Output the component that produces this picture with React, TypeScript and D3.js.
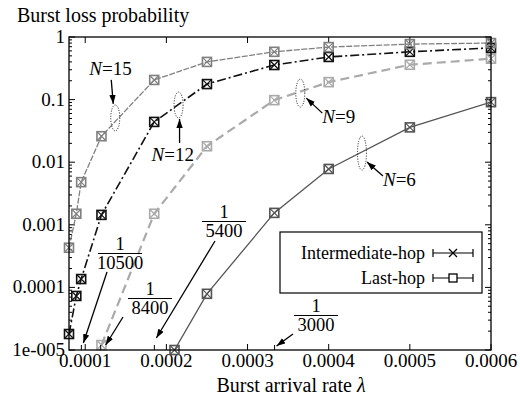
import * as d3 from 'd3';
import React, { useRef, useEffect } from 'react';

// burst arrival rate (lambda) values used by the simulations
const ratesHigh = [0.00008, 0.000089, 0.000095, 0.00012, 0.000185, 0.00025, 0.000333, 0.0004, 0.0005, 0.0006];
const ratesN9 = [0.00012, 0.000185, 0.00025, 0.000333, 0.0004, 0.0005, 0.0006];
const ratesN6 = [0.00021, 0.00025, 0.000333, 0.0004, 0.0005, 0.0006];

// burst loss probability per number of wavelengths N
const lossN15 = [4.3e-4, 1.5e-3, 4.8e-3, 0.026, 0.206, 0.40, 0.58, 0.69, 0.77, 0.80];
const lossN12 = [1.8e-5, 7.3e-5, 1.36e-4, 1.44e-3, 0.044, 0.177, 0.357, 0.48, 0.58, 0.67];
const lossN9 = [1.2e-5, 1.5e-3, 0.018, 0.098, 0.19, 0.36, 0.45];
const lossN6 = [1e-5, 7.9e-5, 1.55e-3, 7.8e-3, 0.036, 0.091];

const xTicks = [0.0001, 0.0002, 0.0003, 0.0004, 0.0005, 0.0006];
const xTickLabels = ['0.0001', '0.0002', '0.0003', '0.0004', '0.0005', '0.0006'];
const yTicks = [1e-5, 1e-4, 1e-3, 1e-2, 1e-1, 1];
const yTickLabels = ['1e-005', '0.0001', '0.001', '0.01', '0.1', '1'];

// threshold rates marked with fractions
const fractions = [10500, 8400, 5400, 3000];

const legendLabels = ['Intermediate-hop', 'Last-hop'];

function App() {
    const ref = useRef(null);

    useEffect(() => {
        draw();
    }, []);

    const draw = () => {
        const width = 520, height = 397;
        const margin = { top: 37, right: 29, bottom: 47, left: 69 };
        const font = "'Liberation Serif', 'Times New Roman', serif";

        const svg = d3.select(ref.current)
            .attr('width', width)
            .attr('height', height)
            .style('font-family', font);
        svg.selectAll('*').remove();

        svg.append('rect').attr('width', width).attr('height', height).attr('fill', 'white');

        const x = d3.scaleLinear().domain([0.00008, 0.0006]).range([margin.left, width - margin.right]);
        const y = d3.scaleLog().domain([1e-5, 1]).range([height - margin.bottom, margin.top]);
        const x0 = x.range()[0], x1 = x.range()[1];
        const y0 = y.range()[0], y1 = y.range()[1];

        const defs = svg.append('defs');
        defs.append('clipPath').attr('id', 'plotclip')
            .append('rect')
            .attr('x', x0).attr('y', y1)
            .attr('width', x1 - x0).attr('height', y0 - y1);
        defs.append('marker')
            .attr('id', 'arrowhead')
            .attr('viewBox', '0 0 10 7')
            .attr('refX', 10).attr('refY', 3.5)
            .attr('markerWidth', 9).attr('markerHeight', 6.5)
            .attr('markerUnits', 'userSpaceOnUse')
            .attr('orient', 'auto')
            .append('path').attr('d', 'M0,0 L10,3.5 L0,7 z').attr('fill', 'black');

        // ticks
        const ticks = svg.append('g').attr('stroke', 'black').attr('stroke-width', 1);
        xTicks.forEach(t => {
            ticks.append('line').attr('x1', x(t)).attr('x2', x(t)).attr('y1', y0).attr('y2', y0 - 6);
            ticks.append('line').attr('x1', x(t)).attr('x2', x(t)).attr('y1', y1).attr('y2', y1 + 6);
        });
        yTicks.forEach((t, i) => {
            ticks.append('line').attr('x1', x0).attr('x2', x0 + 6).attr('y1', y(t)).attr('y2', y(t));
            ticks.append('line').attr('x1', x1).attr('x2', x1 - 6).attr('y1', y(t)).attr('y2', y(t));
            if (i < yTicks.length - 1) {
                for (let m = 2; m <= 9; m++) {
                    const v = t * m;
                    ticks.append('line').attr('x1', x0).attr('x2', x0 + 3).attr('y1', y(v)).attr('y2', y(v));
                    ticks.append('line').attr('x1', x1).attr('x2', x1 - 3).attr('y1', y(v)).attr('y2', y(v));
                }
            }
        });

        // tick labels
        xTicks.forEach((t, i) => {
            svg.append('text').attr('x', x(t)).attr('y', y0 + 17)
                .attr('text-anchor', 'middle').style('font-size', '19px')
                .text(xTickLabels[i]);
        });
        yTicks.forEach((t, i) => {
            svg.append('text').attr('x', x0 - 4).attr('y', y(t) + 6)
                .attr('text-anchor', 'end').style('font-size', '19px')
                .text(yTickLabels[i]);
        });

        // axis titles
        svg.append('text').attr('x', 17).attr('y', 22).style('font-size', '20px')
            .text('Burst loss probability');
        const xt = svg.append('text').attr('x', 291).attr('y', 392)
            .attr('text-anchor', 'middle').style('font-size', '20px');
        xt.append('tspan').text('Burst arrival rate ');
        xt.append('tspan').style('font-style', 'italic').text('λ');

        // series
        const series = [
            { xs: ratesN6, ys: lossN6, color: '#555555', width: 1.3, dash: null },
            { xs: ratesN9, ys: lossN9, color: '#aaaaaa', width: 2.2, dash: '9,5' },
            { xs: ratesHigh, ys: lossN12, color: '#111111', width: 1.6, dash: '9,3,2,3' },
            { xs: ratesHigh, ys: lossN15, color: '#808080', width: 1.3, dash: '6,1.5' },
        ];

        const line = d3.line()
            .x(d => x(d[0]))
            .y(d => y(d[1]));

        series.forEach(s => {
            const pts = s.xs.map((v, i) => [v, s.ys[i]]);
            svg.append('path')
                .attr('clip-path', 'url(#plotclip)')
                .attr('d', line(pts))
                .attr('fill', 'none')
                .attr('stroke', s.color)
                .attr('stroke-width', s.width)
                .attr('stroke-dasharray', s.dash);
        });

        // markers: square (last-hop) and cross (intermediate-hop), overlapping
        series.forEach(s => {
            const g = svg.append('g').attr('stroke', s.color).attr('fill', 'none').attr('stroke-width', 1.6);
            s.xs.forEach((v, i) => {
                const cx = x(v), cy = y(s.ys[i]), r = 4.5;
                g.append('rect').attr('x', cx - r).attr('y', cy - r).attr('width', 2 * r).attr('height', 2 * r);
                g.append('path').attr('stroke-width', 1.2)
                    .attr('d', `M${cx - r},${cy - r}L${cx + r},${cy + r}M${cx - r},${cy + r}L${cx + r},${cy - r}`);
            });
        });

        // frame
        svg.append('rect').attr('x', x0).attr('y', y1).attr('width', x1 - x0).attr('height', y0 - y1)
            .attr('fill', 'none').attr('stroke', 'black').attr('stroke-width', 1.3);

        // N labels with dotted ellipses
        const nNotes = [
            { n: '15', cx: 0.000137, cy: 0.051, ry: 13, tx: -26, ty: -43, a: [-4, -38, -2, -14] },
            { n: '12', cx: 0.000215, cy: 0.082, ry: 13, tx: -27, ty: 56, a: [1, 38, 1, 14] },
            { n: '9', cx: 0.000365, cy: 0.127, ry: 14, tx: 22, ty: 30, a: [22, 20, 6, 5] },
            { n: '6', cx: 0.000441, cy: 0.014, ry: 17, tx: 21, ty: 33, a: [21, 23, 5, 9] },
        ];
        nNotes.forEach(d => {
            const cx = x(d.cx), cy = y(d.cy);
            svg.append('ellipse').attr('cx', cx).attr('cy', cy).attr('rx', 4.5).attr('ry', d.ry)
                .attr('fill', 'none').attr('stroke', 'black').attr('stroke-width', 0.9)
                .attr('stroke-dasharray', '1,1.5');
            svg.append('line')
                .attr('x1', cx + d.a[0]).attr('y1', cy + d.a[1])
                .attr('x2', cx + d.a[2]).attr('y2', cy + d.a[3])
                .attr('stroke', 'black').attr('stroke-width', 1.3)
                .attr('marker-end', 'url(#arrowhead)');
            const t = svg.append('text').attr('x', cx + d.tx).attr('y', cy + d.ty).style('font-size', '19px');
            t.append('tspan').style('font-style', 'italic').text('N');
            t.append('tspan').text('=' + d.n);
        });

        // fraction annotations pointing to threshold rates
        const fracNotes = [
            { cx: 120, top: 250, a: [107, 272, 2, 343] },
            { cx: 150, top: 295, a: [123, 317, 5, 345] },
            { cx: 224, top: 218, a: [215, 241, 2, 338] },
            { cx: 316, top: 312, a: [293, 334, 2, 346] },
        ];
        fractions.forEach((f, i) => {
            const d = fracNotes[i];
            const tx = x(1 / f);
            svg.append('line').attr('x1', tx).attr('x2', tx).attr('y1', y0).attr('y2', y0 - 5)
                .attr('stroke', 'black').attr('stroke-width', 1);
            svg.append('text').attr('x', d.cx).attr('y', d.top).attr('text-anchor', 'middle')
                .style('font-size', '18.5px').text('1');
            svg.append('line').attr('x1', d.cx - 22).attr('x2', d.cx + 22)
                .attr('y1', d.top + 3.5).attr('y2', d.top + 3.5)
                .attr('stroke', 'black').attr('stroke-width', 1);
            svg.append('text').attr('x', d.cx).attr('y', d.top + 18.5).attr('text-anchor', 'middle')
                .style('font-size', '18.5px').text(String(f));
            svg.append('line')
                .attr('x1', d.a[0]).attr('y1', d.a[1])
                .attr('x2', tx + d.a[2]).attr('y2', d.a[3])
                .attr('stroke', 'black').attr('stroke-width', 1.3)
                .attr('marker-end', 'url(#arrowhead)');
        });

        // legend
        const lg = svg.append('g');
        lg.append('rect').attr('x', 280).attr('y', 232).attr('width', 202).attr('height', 61)
            .attr('fill', 'white').attr('stroke', 'black').attr('stroke-width', 1.2);
        legendLabels.forEach((label, i) => {
            const ly = 253 + i * 25;
            lg.append('text').attr('x', 425).attr('y', ly + 6).attr('text-anchor', 'end')
                .style('font-size', '18px').text(label);
            lg.append('line').attr('x1', 433).attr('x2', 473).attr('y1', ly).attr('y2', ly)
                .attr('stroke', 'black').attr('stroke-width', 1.2);
            [433, 473].forEach(cx => {
                lg.append('line').attr('x1', cx).attr('x2', cx).attr('y1', ly - 4).attr('y2', ly + 4)
                    .attr('stroke', 'black').attr('stroke-width', 1.2);
            });
            const r = 4;
            if (i === 0) {
                lg.append('path').attr('stroke', 'black').attr('stroke-width', 1.3)
                    .attr('d', `M${453 - r},${ly - r}L${453 + r},${ly + r}M${453 - r},${ly + r}L${453 + r},${ly - r}`);
            } else {
                lg.append('rect').attr('x', 453 - r).attr('y', ly - r).attr('width', 2 * r).attr('height', 2 * r)
                    .attr('fill', 'white').attr('stroke', 'black').attr('stroke-width', 1.3);
            }
        });
    };

    return (
        <div style={{ position: 'absolute', left: 0, top: 0 }}>
            <svg ref={ref}></svg>
        </div>
    );
}

export default App;
